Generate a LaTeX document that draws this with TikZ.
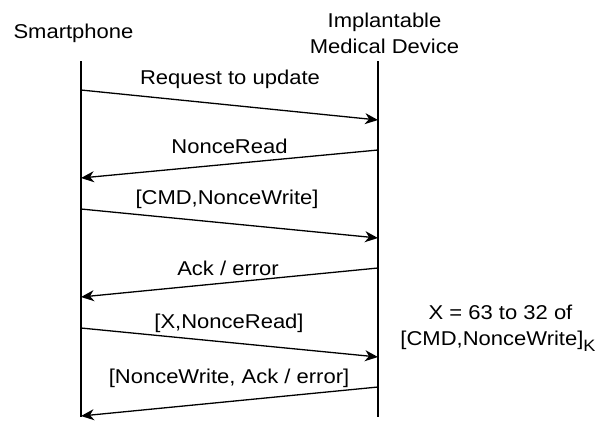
\documentclass[tikz,border=0pt]{standalone}
\usepackage{fontspec}
\setmainfont{Liberation Sans}[FakeStretch=1.1]
\usetikzlibrary{arrows.meta}
\newcommand{\subK}{\raisebox{-6.5pt}{\fontsize{16.5}{18}\selectfont K}}
\begin{document}
\begin{tikzpicture}[x=1pt,y=-1pt,
  txt/.style={font=\fontsize{20}{26}\selectfont, inner sep=0pt, align=center, anchor=base},
  life/.style={line width=1.3pt},
  msg/.style={line width=1.3pt, -{Stealth[length=13pt,width=11pt,inset=4pt]}}]
\useasboundingbox (0,0) rectangle (604,424);
% participants (base of a two-line node is the baseline of its last line)
\node[txt] (sp)  at (73.5,38) {Smartphone};
\node[txt] (imd) at (384.5,53) {Implantable\\Medical Device};
% lifelines
\coordinate (lt) at (81,61);  \coordinate (lb) at (81,417);
\coordinate (rt) at (378,61); \coordinate (rb) at (378,417);
\draw[life] (lt) -- (lb);
\draw[life] (rt) -- (rb);
% message end points
\coordinate (a1) at (81,90);   \coordinate (b1) at (378,120);
\coordinate (a2) at (378,150); \coordinate (b2) at (81,178);
\coordinate (a3) at (81,209);  \coordinate (b3) at (378,238);
\coordinate (a4) at (378,268); \coordinate (b4) at (81,297);
\coordinate (a5) at (81,328);  \coordinate (b5) at (378,357);
\coordinate (a6) at (378,387); \coordinate (b6) at (81,416);
% messages
\draw[msg] (a1) -- (b1);
\draw[msg] (a2) -- (b2);
\draw[msg] (a3) -- (b3);
\draw[msg] (a4) -- (b4);
\draw[msg] (a5) -- (b5);
\draw[msg] (a6) -- (b6);
% labels
\node[txt] (m1) at (230,84)  {Request to update};
\node[txt] (m2) at (229.5,153) {NonceRead};
\node[txt] (m3) at (227,204) {[CMD,NonceWrite]};
\node[txt] (m4) at (228,275) {Ack / error};
\node[txt] (m5) at (229,328) {[X,NonceRead]};
\node[txt] (m6) at (229,383) {[NonceWrite, Ack / error]};
% note
\node[txt] (n1) at (500.5,319) {X = 63 to 32 of};
\node[txt] (n2) at (498,345) {[CMD,NonceWrite]\subK};
\end{tikzpicture}
\end{document}
